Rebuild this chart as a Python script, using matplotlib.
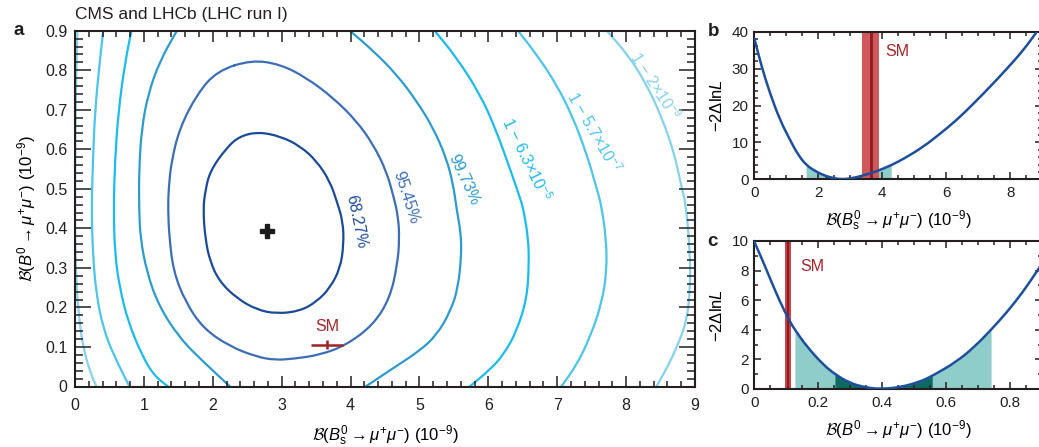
import matplotlib
matplotlib.use('Agg')
import matplotlib.pyplot as plt
from matplotlib.ticker import MultipleLocator, FuncFormatter
from matplotlib.path import Path
from matplotlib.patches import PathPatch
import numpy as np

plt.rcParams['font.family'] = ['Liberation Sans', 'DejaVu Sans']
plt.rcParams['mathtext.fontset'] = 'custom'
plt.rcParams['mathtext.rm'] = 'Liberation Sans'
plt.rcParams['mathtext.it'] = 'Liberation Sans:italic'
plt.rcParams['mathtext.cal'] = 'cmsy10'
plt.rcParams['text.color'] = '#231f20'

c68_x = [2.66, 2.98, 3.27, 3.51, 3.70, 3.80, 3.89, 3.90, 3.85, 3.70, 3.51, 3.27, 2.93,
         2.64, 2.35, 2.10, 1.96, 1.89, 1.86, 1.89, 1.96, 2.20, 2.39, 2.66]
c68_y = [0.644, 0.633, 0.608, 0.570, 0.519, 0.469, 0.417, 0.358, 0.299, 0.249, 0.215, 0.191, 0.184,
         0.194, 0.223, 0.265, 0.316, 0.375, 0.448, 0.494, 0.545, 0.604, 0.633, 0.644]

c95_x = [2.56, 2.98, 3.36, 3.75, 4.09, 4.33, 4.52, 4.63, 4.69, 4.71, 4.68, 4.57, 4.33, 3.94,
         3.56, 3.17, 2.90, 2.64, 2.25, 1.86, 1.60, 1.43, 1.37, 1.35, 1.36, 1.40, 1.52, 1.77,
         2.06, 2.56]
c95_y = [0.826, 0.815, 0.781, 0.730, 0.671, 0.612, 0.545, 0.477, 0.430, 0.375, 0.308, 0.223,
         0.156, 0.105, 0.080, 0.070, 0.067, 0.075, 0.101, 0.147, 0.215, 0.291, 0.375, 0.448,
         0.503, 0.570, 0.654, 0.739, 0.798, 0.826]

c997_left_x = [1.48, 1.23, 1.06, 0.97, 0.93, 0.93, 0.95, 1.04, 1.21, 1.52, 1.86, 2.25]
c997_left_y = [0.90, 0.823, 0.739, 0.654, 0.553, 0.448, 0.375, 0.291, 0.206, 0.122, 0.063, 0.0]
c997_right_x = [3.99, 4.33, 4.67, 4.96, 5.20, 5.39, 5.49, 5.54, 5.60, 5.61, 5.56, 5.45, 5.25,
                5.00, 4.65, 4.22]
c997_right_y = [0.90, 0.849, 0.789, 0.722, 0.654, 0.578, 0.511, 0.448, 0.390, 0.333, 0.249,
                0.190, 0.130, 0.090, 0.050, 0.0]

c5s_left_x = [0.82, 0.73, 0.63, 0.58, 0.56, 0.58, 0.65, 0.77, 0.97, 1.14, 1.35]
c5s_left_y = [0.90, 0.823, 0.697, 0.570, 0.448, 0.333, 0.249, 0.164, 0.080, 0.029, 0.0]
c5s_right_x = [5.22, 5.54, 5.88, 6.10, 6.31, 6.46, 6.51, 6.58, 6.59, 6.56, 6.41, 6.22, 6.02, 5.73]
c5s_right_y = [0.90, 0.832, 0.739, 0.654, 0.553, 0.477, 0.448, 0.375, 0.308, 0.223, 0.139,
               0.080, 0.042, 0.0]

c6s_left_x = [0.41, 0.36, 0.29, 0.26, 0.24, 0.26, 0.31, 0.41, 0.56, 0.79]
c6s_left_y = [0.90, 0.823, 0.697, 0.570, 0.448, 0.333, 0.232, 0.147, 0.080, 0.0]
c6s_right_x = [6.43, 6.70, 6.99, 7.23, 7.43, 7.57, 7.64, 7.71, 7.72, 7.64, 7.47, 7.28, 7.06]
c6s_right_y = [0.90, 0.840, 0.764, 0.680, 0.587, 0.503, 0.459, 0.375, 0.291, 0.206, 0.122,
               0.054, 0.0]

c7s_left_x = [0.035, 0.02, 0.01, 0.003, 0.0, 0.01, 0.05, 0.12, 0.22, 0.31]
c7s_left_y = [0.90, 0.80, 0.70, 0.55, 0.40, 0.30, 0.181, 0.097, 0.037, 0.0]
c7s_right_x = [7.72, 8.02, 8.28, 8.52, 8.70, 8.81, 8.87, 8.93, 8.93, 8.88, 8.73, 8.59, 8.44]
c7s_right_y = [0.90, 0.840, 0.770, 0.680, 0.590, 0.500, 0.459, 0.333, 0.249, 0.164, 0.097,
               0.046, 0.0]

best_fit = (2.78, 0.394)
sm_bs, sm_bs_err = 3.66, 0.23
sm_b0, sm_b0_err = 0.106, 0.012

contour_labels = ['68.27%', '95.45%', '99.73%', r'1 $-$ 6.3×10$^{-5}$',
                  r'1 $-$ 5.7×10$^{-7}$', r'1 $-$ 2×10$^{-9}$']
label_pos = [(4.09, 0.418), (4.80, 0.477), (5.65, 0.523), (6.55, 0.576), (7.53, 0.644), (8.42, 0.761)]
label_rot = [-78, -72, -65, -64, -60, -57]
colors = ['#1b4a98', '#3c6db7', '#2d9bcd', '#1cbbee', '#4cc4ec', '#86d2ec']

# ---- panel b: profile of B(Bs->mumu)
b_x = [0.0, 0.23, 0.49, 0.80, 1.12, 1.35, 1.62, 1.95, 2.20, 2.45, 2.73, 3.00, 3.40, 3.83,
       4.28, 4.70, 5.28, 5.80, 6.33, 6.85, 7.37, 7.90, 8.41, 8.83]
b_y = [38.2, 30.5, 23.3, 16.1, 10.6, 6.9, 3.8, 2.0, 1.0, 0.35, 0.0, 0.2, 1.0, 2.2,
       3.8, 5.7, 8.8, 12.3, 16.1, 20.5, 25.1, 30.0, 35.0, 40.0]
b_2sig = (1.62, 4.28)
b_1sig = (2.20, 3.40)
b_sm, b_sm_band = 3.64, (3.36, 3.91)

# ---- panel c: profile of B(B0->mumu)
c_x = [0.0, 0.023, 0.049, 0.080, 0.111, 0.127, 0.164, 0.216, 0.252, 0.299, 0.351, 0.395,
       0.455, 0.518, 0.556, 0.632, 0.688, 0.740, 0.790, 0.841, 0.883, 0.90]
c_y = [9.95, 8.83, 7.48, 5.90, 4.55, 4.0, 2.87, 1.63, 1.0, 0.39, 0.09, 0.0,
       0.11, 0.49, 0.88, 1.84, 2.85, 4.0, 5.2, 6.6, 7.95, 8.5]
c_2sig = (0.127, 0.740)
c_1sig = (0.252, 0.556)
c_sm, c_sm_band = 0.106, (0.097, 0.115)

W, H = 1039, 447
fig = plt.figure(figsize=(W / 100, H / 100), dpi=100)


def px_axes(l, t, r, b):
    return [l / W, 1 - b / H, (r - l) / W, (b - t) / H]


def zero_fmt(v, pos):
    return '0' if abs(v) < 1e-9 else f'{v:g}'


def smooth_line(ax, x, y, closed=False, **kw):
    pts = np.column_stack([x, y])
    if closed:
        pts = pts[:-1]
        mids = (pts + np.roll(pts, -1, axis=0)) / 2
        verts = [mids[-1]]
        codes = [Path.MOVETO]
        for p, m in zip(pts, mids):
            verts += [p, m]
            codes += [Path.CURVE3, Path.CURVE3]
    else:
        mids = (pts[:-1] + pts[1:]) / 2
        verts = [pts[0], mids[0]]
        codes = [Path.MOVETO, Path.LINETO]
        for i in range(1, len(pts) - 1):
            verts += [pts[i], mids[i]]
            codes += [Path.CURVE3, Path.CURVE3]
        verts.append(pts[-1])
        codes.append(Path.LINETO)
    ax.add_patch(PathPatch(Path(verts, codes), fill=False, capstyle='round', **kw))


def style(ax, xmaj, xmin, ymaj, ymin, xlen, ylen, xpad, ypad, size):
    ax.xaxis.set_major_locator(MultipleLocator(xmaj))
    ax.xaxis.set_minor_locator(MultipleLocator(xmin))
    ax.yaxis.set_major_locator(MultipleLocator(ymaj))
    ax.yaxis.set_minor_locator(MultipleLocator(ymin))
    ax.xaxis.set_major_formatter(FuncFormatter(zero_fmt))
    ax.yaxis.set_major_formatter(FuncFormatter(zero_fmt))
    ax.tick_params(which='both', direction='in', top=True, right=True, width=1.1,
                   color='#231f20', labelcolor='#231f20', labelsize=size)
    ax.tick_params(axis='x', which='major', length=xlen[0], pad=xpad)
    ax.tick_params(axis='x', which='minor', length=xlen[1])
    ax.tick_params(axis='y', which='major', length=ylen[0], pad=ypad)
    ax.tick_params(axis='y', which='minor', length=ylen[1])
    for s in ax.spines.values():
        s.set_linewidth(1.5)
        s.set_color('#231f20')


bs_label = r'$\mathcal{B}(B^0_\mathrm{s} \rightarrow \mu^{+}\mu^{-})$ (10$^{-9}$)'
b0_label = r'$\mathcal{B}(B^0 \rightarrow \mu^{+}\mu^{-})$ (10$^{-9}$)'
nll_label = r'$-2\Delta\mathrm{ln}L$'

# ---------------- panel a
ax = fig.add_axes(px_axes(75, 30.7, 695, 386.5))
smooth_line(ax, c68_x, c68_y, closed=True, color=colors[0], lw=1.6)
smooth_line(ax, c95_x, c95_y, closed=True, color=colors[1], lw=1.6)
branches = [[(c997_left_x, c997_left_y), (c997_right_x, c997_right_y)],
            [(c5s_left_x, c5s_left_y), (c5s_right_x, c5s_right_y)],
            [(c6s_left_x, c6s_left_y), (c6s_right_x, c6s_right_y)],
            [(c7s_left_x, c7s_left_y), (c7s_right_x, c7s_right_y)]]
for pair, col in zip(branches, colors[2:]):
    for x, y in pair:
        smooth_line(ax, x, y, color=col, lw=1.6)
for txt, (x, y), rot, col in zip(contour_labels, label_pos, label_rot, colors):
    ax.text(x, y, txt, rotation=rot, rotation_mode='anchor', ha='center', va='center',
            color=col, fontsize=11.5)

ax.plot(*best_fit, marker='P', ms=10, color='#1a1a1a', mec='#1a1a1a')
ax.errorbar(sm_bs, sm_b0, xerr=sm_bs_err, yerr=sm_b0_err, color='#9e2327', lw=1.8,
            capsize=0)
ax.text(sm_bs, 0.152, 'SM', color='#a3262a', fontsize=11.5, ha='center', va='center')

ax.set_xlim(0, 9)
ax.set_ylim(0, 0.9)
style(ax, 1, 0.2, 0.1, 0.02, (8, 4), (11.5, 5.5), 8, 5.5, 11.5)
ax.set_xlabel(bs_label, fontsize=12, labelpad=8)
ax.set_ylabel(b0_label, fontsize=12, labelpad=5)

# ---------------- panel b
axb = fig.add_axes(px_axes(754.3, 31.7, 1042.3, 179.3))
bx = np.array(b_x)
by = np.array(b_y)
axb.fill_between(bx, 0, by, where=(bx >= b_2sig[0]) & (bx <= b_2sig[1]),
                 color='#8fcdca', lw=0, zorder=1)
axb.fill_between(bx, 0, by, where=(bx >= b_1sig[0]) & (bx <= b_1sig[1]),
                 color='#0f6a62', lw=0, zorder=1)
axb.axvspan(*b_sm_band, color='#d0585d', lw=0, zorder=2)
axb.axvline(b_sm, color='#8e1b1f', lw=2, zorder=2)
smooth_line(axb, bx, by, color='#1d4f9c', lw=1.8, zorder=3)
axb.text(4.46, 34.5, 'SM', color='#a3262a', fontsize=11.5, ha='center', va='center')
axb.set_xlim(0, 9)
axb.set_ylim(0, 40)
style(axb, 2, 0.5, 10, 2, (5, 3), (5, 3), 5, 4, 11)
axb.set_xlabel(bs_label, fontsize=12, labelpad=6)
axb.set_ylabel(nll_label, fontsize=12, labelpad=5)

# ---------------- panel c
axc = fig.add_axes(px_axes(754.3, 241, 1042.3, 389))
cx = np.array(c_x)
cy = np.array(c_y)
axc.fill_between(cx, 0, cy, where=(cx >= c_2sig[0]) & (cx <= c_2sig[1]),
                 color='#8fcdca', lw=0, zorder=1)
axc.fill_between(cx, 0, cy, where=(cx >= c_1sig[0]) & (cx <= c_1sig[1]),
                 color='#0f6a62', lw=0, zorder=1)
axc.axvspan(*c_sm_band, color='#c8434a', lw=0, zorder=2)
axc.axvline(c_sm, color='#8e1b1f', lw=1.5, zorder=2)
smooth_line(axc, cx, cy, color='#1d4f9c', lw=1.8, zorder=3)
axc.text(0.182, 8.31, 'SM', color='#a3262a', fontsize=11.5, ha='center', va='center')
axc.set_xlim(0, 0.9)
axc.set_ylim(0, 10)
style(axc, 0.2, 0.05, 2, 1, (5, 3), (5, 3), 5, 4, 11)
axc.set_xlabel(b0_label, fontsize=12, labelpad=6)
axc.set_ylabel(nll_label, fontsize=12, labelpad=5)

# ---------------- titles / panel letters
fig.text(75 / W, 1 - 14 / H, 'CMS and LHCb (LHC run I)', fontsize=12.5, ha='left', va='center')
fig.text(13 / W, 1 - 35 / H, 'a', fontsize=13.5, fontweight='bold', ha='left', va='baseline')
fig.text(708 / W, 1 - 36 / H, 'b', fontsize=13.5, fontweight='bold', ha='left', va='baseline')
fig.text(707 / W, 1 - 246 / H, 'c', fontsize=13.5, fontweight='bold', ha='left', va='baseline')

fig.savefig('out.png', dpi=100, facecolor='white')
